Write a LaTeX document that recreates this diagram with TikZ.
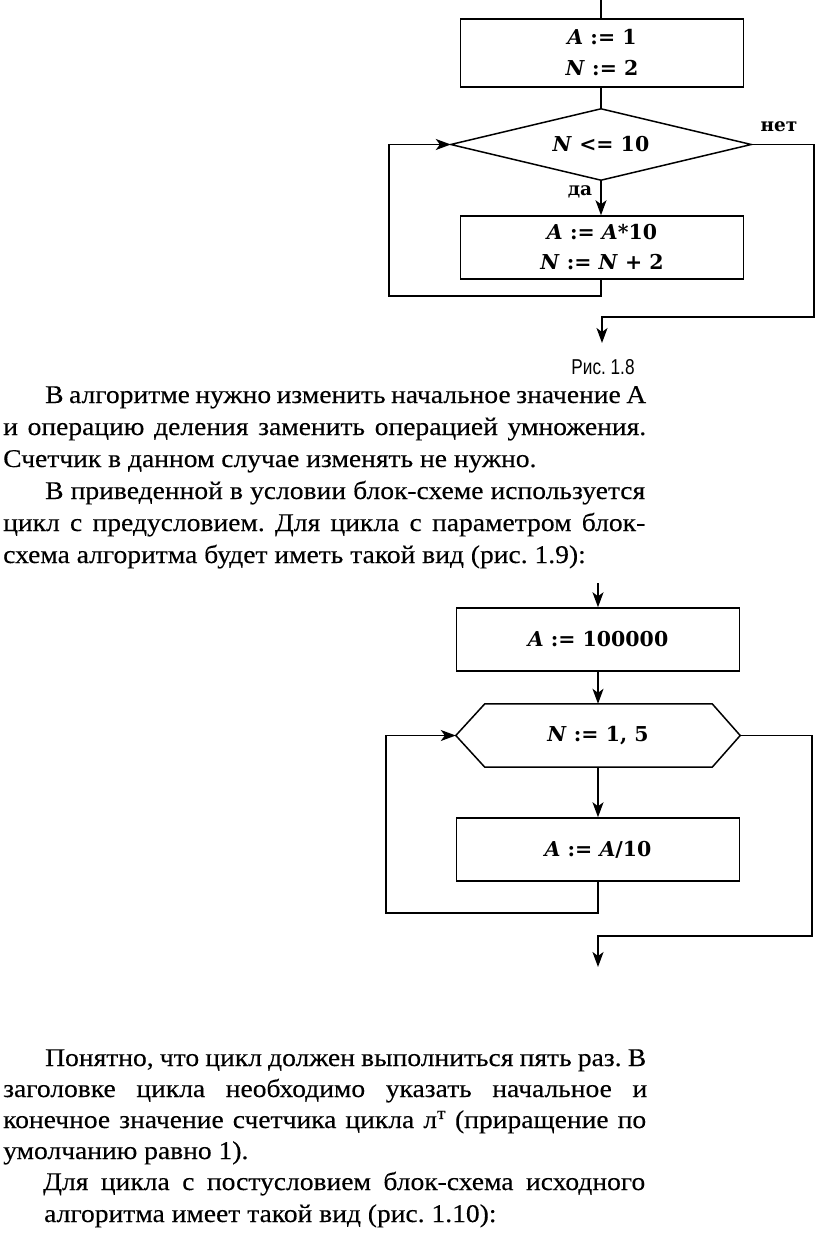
\documentclass[tikz,border=0pt]{standalone}
\usepackage{fontspec}
\usetikzlibrary{arrows.meta,calc}
\newfontfamily\bodyfont[FakeStretch=1.08,FakeBold=0.3]{Liberation Serif}
\newfontfamily\flowfont{DejaVu Serif}
\newfontfamily\capfont[FakeStretch=0.8]{Liberation Sans}
\newcommand{\jl}[2]{\makebox[#1][s]{#2}}
\frenchspacing
\tikzset{
  flow/.style={line width=1.5pt},
  arr/.style={flow, -{Stealth[length=15pt,width=11pt,inset=4pt]}},
  blk/.style={draw, line width=1.5pt, minimum width=283pt, inner sep=0pt, align=center,
     font=\flowfont\bfseries\fontsize{20.5}{31}\selectfont},
  ftxt/.style={inner sep=0pt, font=\flowfont\bfseries\fontsize{20.5}{24}\selectfont},
  lbl/.style={inner sep=0pt, font=\flowfont\bfseries\fontsize{18.5}{22}\selectfont},
  body/.style={inner sep=0pt, anchor=base west, font=\bodyfont\fontsize{25.5}{32}\selectfont},
}
\begin{document}
\begin{tikzpicture}[x=1pt,y=-1pt]
\useasboundingbox (0,0) rectangle (816,1244);
% ---------- Fig 1.8 ----------
\node[blk, minimum height=68pt] (b1) at (602,53) {\textit{A} := 1\\\textit{N} := 2};
\node[ftxt, minimum width=300pt, minimum height=71pt] (dia) at (601,144.5) {\textit{N} <= 10};
\draw[flow, line join=miter] (dia.north) -- (dia.east) -- (dia.south) -- (dia.west) -- cycle;
\node[blk, minimum height=63pt] (b2) at (602,247.5) {\textit{A} := \textit{A}*10\\[-1pt]\textit{N} := \textit{N} + 2};
\coordinate (top1) at (601,0);
\coordinate (l1) at (389,296);
\coordinate (r1) at (814,317);
\coordinate (out1) at (602,343);
\draw[flow] (top1) -- (dia.north |- b1.north);
\draw[flow] (dia.north |- b1.south) -- (dia.north);
\draw[arr] (dia.south) -- (dia.south |- b2.north);
\draw[arr] (dia.south |- b2.south) |- (l1) |- (dia.west);
\draw[arr] (dia.east) -| (r1) -| (out1);
\node[lbl] (da) at (580,192) {да};
\node[lbl] (net) at (779,127) {нет};
\node[inner sep=0pt, font=\capfont\fontsize{21.5}{24}\selectfont] (cap1) at (603,367) {Рис. 1.8};
% ---------- text ----------
\node[body] (t1) at (45,403) {\jl{601pt}{В алгоритме нужно изменить начальное значение А}};
\node[body] (t2) at (3,435) {\jl{643pt}{и операцию деления заменить операцией умножения.}};
\node[body] (t3) at (3,467) {Счетчик в данном случае изменять не нужно.};
\node[body] (t4) at (45,499) {\jl{600pt}{В приведенной в условии блок-схеме используется}};
\node[body] (t5) at (3,531) {\jl{642pt}{цикл с предусловием. Для цикла с параметром блок-}};
\node[body] (t6) at (3,563) {схема алгоритма будет иметь такой вид (рис. 1.9):};
% ---------- Fig 1.9 ----------
\node[blk, minimum height=63pt] (b3) at (598,639.5) {\textit{A} := 100000};
\node[ftxt, minimum width=284pt, minimum height=63pt] (hex) at (598,735.5) {\textit{N} := 1, 5};
\draw[flow, line join=miter] (hex.west) -- ([xshift=29pt]hex.north west) -- ([xshift=-28pt]hex.north east)
   -- (hex.east) -- ([xshift=-28pt]hex.south east) -- ([xshift=29pt]hex.south west) -- cycle;
\node[blk, minimum height=63pt] (b4) at (598,849.5) {\textit{A} := \textit{A}/10};
\coordinate (top2) at (598,583);
\coordinate (l2) at (386,913);
\coordinate (r2) at (812,936);
\coordinate (out2) at (598,967);
\draw[arr] (top2) -- (b3.north);
\draw[arr] (b3.south) -- (hex.north);
\draw[arr] (hex.south) -- (b4.north);
\draw[arr] (b4.south) |- (l2) |- (hex.west);
\draw[arr] (hex.east) -| (r2) -| (out2);
% ---------- bottom text ----------
\node[body] (u1) at (45,1066) {\jl{601pt}{Понятно, что цикл должен выполниться пять раз. В}};
\node[body] (u2) at (3,1097) {\jl{644pt}{заголовке цикла необходимо указать начальное и}};
\node[body] (u3) at (3,1128) {\jl{643pt}{конечное значение счетчика цикла л\textsuperscript{т} (приращение по}};
\node[body] (u4) at (3,1159) {умолчанию равно 1).};
\node[body] (u5) at (43,1190) {\jl{602pt}{Для цикла с постусловием блок-схема исходного}};
\node[body] (u6) at (44,1222) {алгоритма имеет такой вид (рис. 1.10):};
\end{tikzpicture}
\end{document}
